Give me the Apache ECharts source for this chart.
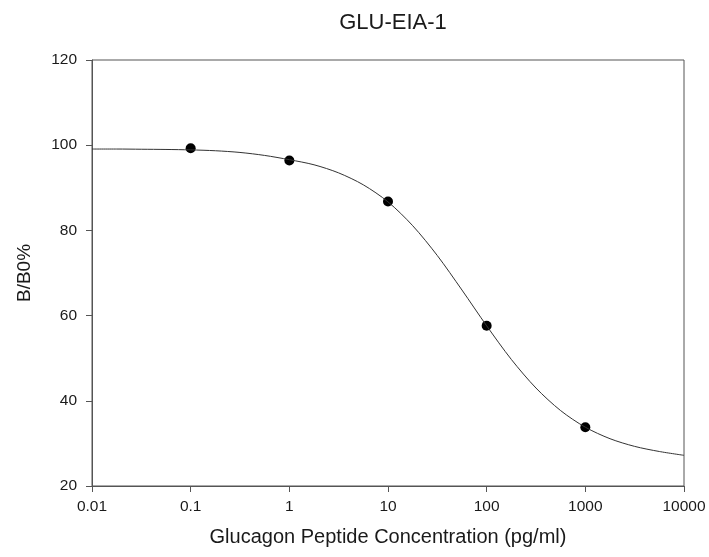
<!DOCTYPE html>
<html>
<head>
<meta charset="utf-8">
<script src="https://cdn.jsdelivr.net/npm/echarts@6/dist/echarts.min.js"></script>
<style>html,body{margin:0;padding:0;background:#fff;}#c{width:709px;height:557px;}</style>
</head>
<body>
<div id="c"></div>
<script>
// Measured standards (points)
const concentrations = [0.1, 1, 10, 100, 1000];
const bb0Values = [99.3, 96.4, 86.8, 57.6, 33.8];

// Fitted curve
const curveX = [0.01, 0.0178, 0.0316, 0.0562, 0.1, 0.178, 0.316, 0.562, 1, 1.78, 3.16, 5.62, 10, 17.8, 31.6, 56.2, 100, 178, 316, 562, 1000, 1780, 3160, 5620, 10000];
const curveY = [99.1, 99.1, 99.05, 99.0, 98.9, 98.7, 98.3, 97.6, 96.6, 95.4, 93.5, 90.7, 86.7, 81.1, 74.1, 66.0, 57.6, 49.7, 43.0, 37.7, 33.8, 31.1, 29.3, 28.1, 27.2];

const xTickLabels = ['0.01', '0.1', '1', '10', '100', '1000', '10000'];
const yTickLabels = ['20', '40', '60', '80', '100', '120'];

const titleText = 'GLU-EIA-1';
const xAxisName = 'Glucagon Peptide Concentration (pg/ml)';
const yAxisName = 'B/B0%';

const chart = echarts.init(document.getElementById('c'), null, {renderer: 'canvas'});
const font = 'Liberation Sans, Arial, sans-serif';
const axisColor = '#555';
const textColor = '#1a1a1a';

chart.setOption({
  animation: false,
  backgroundColor: '#fff',
  title: {
    text: titleText, left: 388, top: 7, textAlign: 'center',
    textStyle: {fontFamily: font, fontSize: 22, fontWeight: 'normal', color: textColor}
  },
  grid: {left: 92, right: 25, top: 60, bottom: 71, show: true, borderColor: axisColor, borderWidth: 1, backgroundColor: 'transparent'},
  xAxis: {
    type: 'log', logBase: 10, min: 0.01, max: 10000,
    name: xAxisName, nameLocation: 'middle', nameGap: 41,
    nameTextStyle: {fontFamily: font, fontSize: 20, color: textColor},
    axisLine: {show: true, lineStyle: {color: axisColor, width: 1}},
    axisTick: {show: true, inside: false, length: 6, lineStyle: {color: axisColor}},
    minorTick: {show: false},
    splitLine: {show: false},
    axisLabel: {fontFamily: font, fontSize: 15.5, color: textColor, margin: 13,
      formatter: function (v, i) { return xTickLabels[i] !== undefined ? xTickLabels[i] : ''; }}
  },
  yAxis: {
    type: 'value', min: 20, max: 120, interval: 20,
    name: yAxisName, nameLocation: 'middle', nameGap: 58, nameRotate: 90,
    nameTextStyle: {fontFamily: font, fontSize: 19, color: textColor},
    axisLine: {show: true, lineStyle: {color: axisColor, width: 1}},
    axisTick: {show: true, inside: false, length: 6, lineStyle: {color: axisColor}},
    splitLine: {show: false},
    axisLabel: {fontFamily: font, fontSize: 15.5, color: textColor, margin: 15,
      formatter: function (v, i) { return yTickLabels[i] !== undefined ? yTickLabels[i] : ''; }}
  },
  series: [
    {
      type: 'line', smooth: 0.3, showSymbol: false, silent: true,
      data: curveX.map((x, i) => [x, curveY[i]]),
      lineStyle: {color: '#333', width: 1}
    },
    {
      type: 'scatter', symbol: 'circle', symbolSize: 10,
      data: concentrations.map((x, i) => [x, bb0Values[i]]),
      itemStyle: {color: '#000', opacity: 1}
    }
  ]
});
</script>
</body>
</html>
